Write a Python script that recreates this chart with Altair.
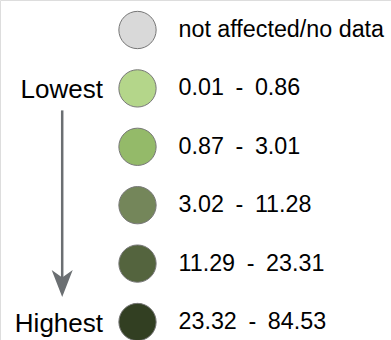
import altair as alt
import pandas as pd

# Legend rows (top to bottom)
labels = ["not affected/no data", "0.01 - 0.86", "0.87 - 3.01", "3.02 - 11.28", "11.29 - 23.31", "23.32 - 84.53"]
colors = ["#d9d9d9", "#b4d68a", "#94ba69", "#74865a", "#54643e", "#323f22"]
rows = [0, 1, 2, 3, 4, 5]

# Direction annotations
ends = ["Lowest", "Highest"]
end_rows = [1, 5]

# wider spacing around the range dash, as in the reference
display = [s.replace(" - ", "\u2002-\u2002") for s in labels]

df = pd.DataFrame({"row": rows, "label": display, "color": colors})
df_ends = pd.DataFrame({"row": end_rows, "text": ends})
df_arrow = pd.DataFrame({"start": [end_rows[0]], "end": [end_rows[1]]})

FONT = "Arial"
W, H = 391, 340
yscale = alt.Scale(domain=[0, 5], range=[30, 322])

circles = alt.Chart(df).mark_circle(size=1390, opacity=1, stroke="#777777", strokeWidth=1).encode(
    x=alt.value(137.5),
    y=alt.Y("row:Q", scale=yscale, axis=None),
    color=alt.Color("color:N", scale=None),
)

texts = alt.Chart(df).mark_text(align="left", baseline="middle", font=FONT, fontSize=23.3, color="#000000").encode(
    x=alt.value(178.5),
    y=alt.Y("row:Q", scale=yscale, axis=None),
    text="label:N",
)

end_texts = alt.Chart(df_ends).mark_text(align="right", baseline="middle", font=FONT, fontSize=26, dy=2, color="#000000").encode(
    x=alt.value(103),
    y=alt.Y("row:Q", scale=yscale, axis=None),
    text="text:N",
)

shaft = alt.Chart(df_arrow).mark_rule(color="#6b6f72", strokeWidth=2.5, yOffset=22, y2Offset=-44).encode(
    x=alt.value(62.2),
    y=alt.Y("start:Q", scale=yscale, axis=None),
    y2="end:Q",
)

head = alt.Chart(df_arrow).mark_point(
    shape="M0,1 L-0.78,-1 L0,-0.45 L0.78,-1 Z",
    size=729, filled=True, opacity=1, color="#6b6f72", yOffset=-38.5,
).encode(
    x=alt.value(62.2),
    y=alt.Y("end:Q", scale=yscale, axis=None),
)

chart = alt.layer(shaft, head, circles, texts, end_texts).properties(
    width=W, height=H, padding=0, autosize=alt.AutoSizeParams(type="none")
).configure_view(stroke=None).configure(background="white")

chart.save("out.html", embed_options={"renderer": "svg", "actions": False})
